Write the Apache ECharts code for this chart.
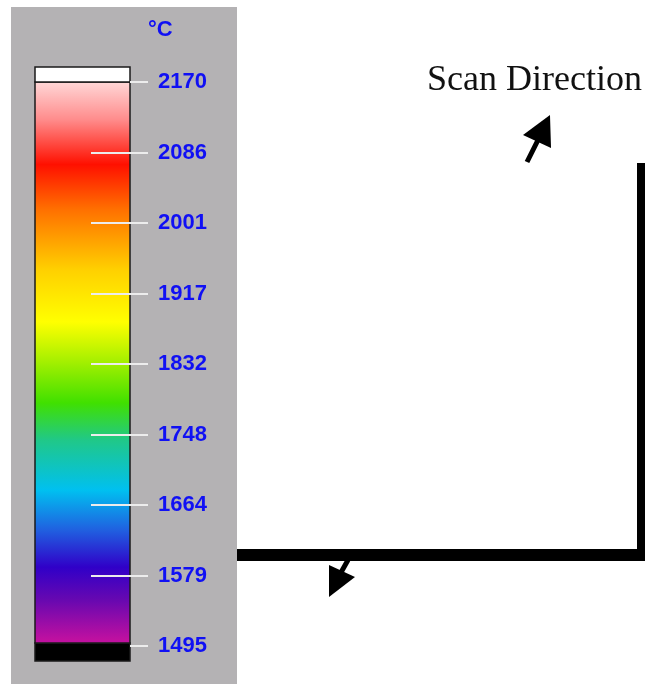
<!DOCTYPE html>
<html>
<head>
<meta charset="utf-8">
<script src="https://cdn.jsdelivr.net/npm/echarts@6/dist/echarts.min.js"></script>
<style>
html,body{margin:0;padding:0;background:#fff;}
#chart{width:645px;height:684px;}
</style>
</head>
<body>
<div id="chart"></div>
<script>
// Temperature scale (°C)
const unit = '°C';
const tempMin = 1495;
const tempMax = 2170;
// tick labels, bottom to top (evenly spaced on the scale)
const tickLabels = ['1495', '1579', '1664', '1748', '1832', '1917', '2001', '2086', '2170'];
// colour bar segments: [low, high, kind]
const segLow = [1477, 1498.6, 2170];
const segHigh = [1498.6, 2170, 2188];
const segKind = ['under', 'range', 'over'];
// gradient stops, top (hot) to bottom (cold)
const stopOffsets = [0, 0.068, 0.148, 0.228, 0.335, 0.428, 0.496, 0.572, 0.638, 0.727, 0.798, 0.864, 0.923, 0.993, 1];
const stopColors = ['#ffd8d8', '#ff8c8c', '#ff1000', '#ff7000', '#ffd000', '#ffff00', '#a8f000', '#40e000', '#20c888', '#00c0f0', '#2060e0', '#3000c8', '#6808b0', '#c010a0', '#c010a0'];
const annotation = 'Scan Direction';

const chart = echarts.init(document.getElementById('chart'), null, {renderer: 'canvas'});

const gradient = new echarts.graphic.LinearGradient(0, 0, 0, 1,
  stopOffsets.map((o, i) => ({offset: o, color: stopColors[i]})));

const segData = segLow.map((lo, i) => [lo, segHigh[i], i]);
const tickStyle = {color: '#ececec', width: 2};
const gridBox = {left: 35, top: 82, width: 95, height: 564, outerBoundsMode: 'none', containLabel: false};
const lastIdx = tickLabels.length - 1;

const option = {
  animation: false,
  backgroundColor: '#ffffff',
  grid: [Object.assign({}, gridBox), Object.assign({}, gridBox), Object.assign({}, gridBox)],
  xAxis: [
    {type: 'value', gridIndex: 0, min: 0, max: 1, show: false},
    {type: 'value', gridIndex: 1, min: 0, max: 1, show: false},
    {type: 'value', gridIndex: 2, min: 0, max: 1, show: false}
  ],
  yAxis: [
    {type: 'value', gridIndex: 0, min: tempMin, max: tempMax, show: false},
    {
      type: 'category', gridIndex: 1, data: tickLabels, boundaryGap: false, position: 'right', z: 10,
      axisLine: {show: false, onZero: false},
      splitLine: {show: false},
      axisTick: {show: true, length: 18, inside: false, interval: 0, lineStyle: tickStyle},
      axisLabel: {show: true, interval: 0, margin: 28,
        color: '#1010f4', fontSize: 22, fontWeight: 'bold', fontFamily: 'Liberation Sans, Arial, sans-serif'}
    },
    {
      type: 'category', gridIndex: 2, data: tickLabels, boundaryGap: false, position: 'right', z: 10,
      axisLine: {show: false, onZero: false},
      splitLine: {show: false},
      axisTick: {show: true, length: 39, inside: true,
        interval: (i) => i > 0 && i < lastIdx, lineStyle: tickStyle},
      axisLabel: {show: false}
    }
  ],
  series: [{
    type: 'custom',
    xAxisIndex: 0,
    yAxisIndex: 0,
    clip: false,
    z: 2,
    data: segData,
    renderItem: function (params, api) {
      const lo = api.value(0), hi = api.value(1), idx = api.value(2);
      const p1 = api.coord([0, hi]);
      const p2 = api.coord([1, lo]);
      const kind = segKind[idx];
      const fill = kind === 'range' ? gradient : (kind === 'over' ? '#ffffff' : '#000000');
      return {
        type: 'rect',
        shape: {x: p1[0], y: p1[1], width: p2[0] - p1[0], height: p2[1] - p1[1]},
        style: {fill: fill, stroke: '#1a1a1a', lineWidth: 1.5}
      };
    }
  }],
  graphic: [
    {type: 'rect', z: -10, silent: true, shape: {x: 11, y: 7, width: 226, height: 677}, style: {fill: '#b4b2b4'}},
    {type: 'text', z: 5, left: 148, top: 19, style: {text: unit, fill: '#1010f4', font: 'bold 22px "Liberation Sans", Arial, sans-serif'}},
    {type: 'text', z: 5, left: 427, top: 63, style: {text: annotation, fill: '#111', font: '36px "Liberation Serif", "Times New Roman", serif'}},
    // frame lines of the scan region
    {type: 'rect', z: 5, shape: {x: 237, y: 549, width: 408, height: 12}, style: {fill: '#000'}},
    {type: 'rect', z: 5, shape: {x: 637, y: 163, width: 8, height: 398}, style: {fill: '#000'}},
    // upper arrow
    {type: 'line', z: 5, shape: {x1: 527, y1: 162, x2: 540, y2: 136}, style: {stroke: '#000', lineWidth: 5}},
    {type: 'polygon', z: 5, shape: {points: [[550, 115], [523, 135], [551, 148]]}, style: {fill: '#000'}},
    // lower arrow
    {type: 'line', z: 5, shape: {x1: 348, y1: 560, x2: 339, y2: 576}, style: {stroke: '#000', lineWidth: 5}},
    {type: 'polygon', z: 5, shape: {points: [[329, 597], [329, 565], [355, 577]]}, style: {fill: '#000'}}
  ]
};
chart.setOption(option);
</script>
</body>
</html>
